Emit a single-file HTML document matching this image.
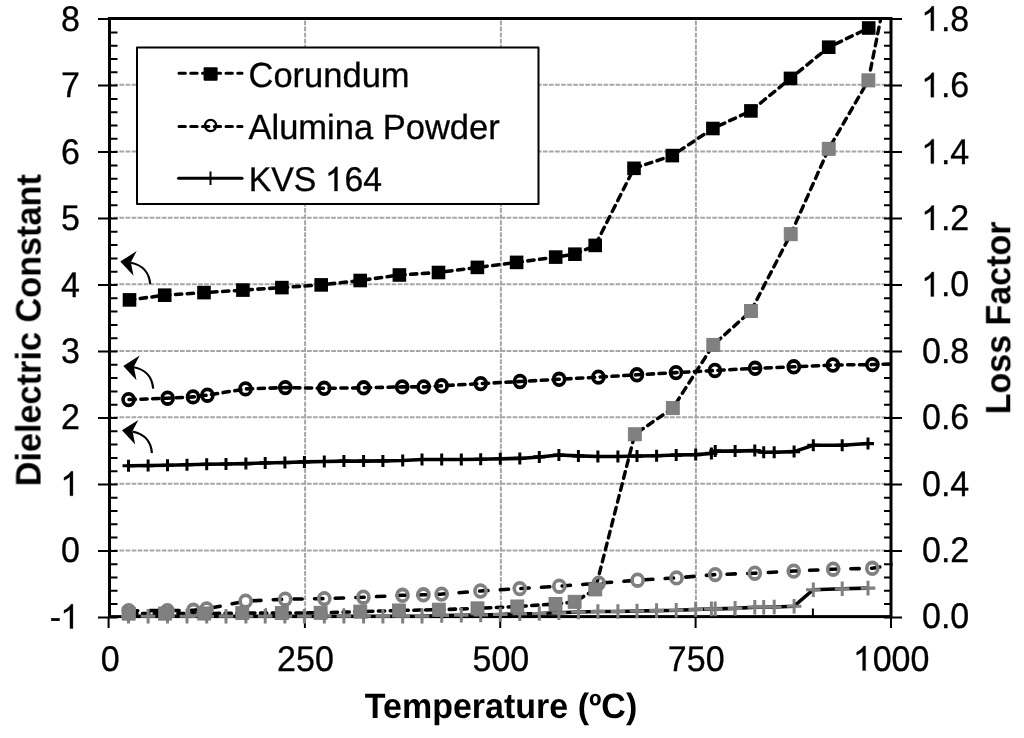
<!DOCTYPE html><html><head><meta charset="utf-8"><title>Dielectric chart</title><style>html,body{margin:0;padding:0;background:#fff;}body{width:1024px;height:738px;overflow:hidden;position:relative;}svg{position:absolute;left:0;top:0;will-change:transform;}text{font-family:"Liberation Sans",sans-serif;fill:#000;font-kerning:none;text-rendering:geometricPrecision;}.rg text,.rg path{stroke:#000;stroke-width:0.3px;}.rg path{vector-effect:non-scaling-stroke;}</style></head><body>
<svg width="1024" height="738" viewBox="0 0 1024 738">
<defs><clipPath id="pc"><rect x="108.0" y="17.0" width="784.5" height="601.1"/></clipPath></defs>
<path d="M111.0 550.5H889.5M111.0 483.8H889.5M111.0 417.2H889.5M111.0 351.0H889.5M111.0 284.2H889.5M111.0 217.8H889.5M111.0 151.5H889.5M111.0 84.8H889.5" stroke="#a6a6a6" stroke-width="2" stroke-dasharray="4.7 1.35" stroke-dashoffset="-2.4" fill="none"/>
<path d="M305.1 20.0V615.1M500.9 20.0V615.1M695.9 20.0V615.1" stroke="#a6a6a6" stroke-width="2" stroke-dasharray="4.7 1.35" stroke-dashoffset="-0.55" fill="none"/>
<path d="M98 19.1H109.5M98 85.6H109.5M98 152.1H109.5M98 218.5H109.5M98 285.0H109.5M98 351.5H109.5M98 418.0H109.5M98 484.5H109.5M98 550.9H109.5M98 617.4H109.5M109.5 19.1H117.5M109.5 32.4H117.5M109.5 45.7H117.5M109.5 59.0H117.5M109.5 72.3H117.5M109.5 85.6H117.5M109.5 98.9H117.5M109.5 112.2H117.5M109.5 125.5H117.5M109.5 138.8H117.5M109.5 152.1H117.5M109.5 165.4H117.5M109.5 178.7H117.5M109.5 191.9H117.5M109.5 205.2H117.5M109.5 218.5H117.5M109.5 231.8H117.5M109.5 245.1H117.5M109.5 258.4H117.5M109.5 271.7H117.5M109.5 285.0H117.5M109.5 298.3H117.5M109.5 311.6H117.5M109.5 324.9H117.5M109.5 338.2H117.5M109.5 351.5H117.5M109.5 364.8H117.5M109.5 378.1H117.5M109.5 391.4H117.5M109.5 404.7H117.5M109.5 418.0H117.5M109.5 431.3H117.5M109.5 444.6H117.5M109.5 457.9H117.5M109.5 471.2H117.5M109.5 484.5H117.5M109.5 497.8H117.5M109.5 511.1H117.5M109.5 524.3H117.5M109.5 537.6H117.5M109.5 550.9H117.5M109.5 564.2H117.5M109.5 577.5H117.5M109.5 590.8H117.5M109.5 604.1H117.5M109.5 617.4H117.5M891.0 617.4H902M891.0 550.9H902M891.0 484.4H902M891.0 418.0H902M891.0 351.5H902M891.0 285.0H902M891.0 218.5H902M891.0 152.1H902M891.0 85.6H902M891.0 19.1H902M884 617.4H891.0M884 604.1H891.0M884 590.8H891.0M884 577.5H891.0M884 564.2H891.0M884 550.9H891.0M884 537.6H891.0M884 524.3H891.0M884 511.0H891.0M884 497.7H891.0M884 484.4H891.0M884 471.1H891.0M884 457.9H891.0M884 444.6H891.0M884 431.3H891.0M884 418.0H891.0M884 404.7H891.0M884 391.4H891.0M884 378.1H891.0M884 364.8H891.0M884 351.5H891.0M884 338.2H891.0M884 324.9H891.0M884 311.6H891.0M884 298.3H891.0M884 285.0H891.0M884 271.7H891.0M884 258.4H891.0M884 245.1H891.0M884 231.8H891.0M884 218.5H891.0M884 205.2H891.0M884 191.9H891.0M884 178.6H891.0M884 165.4H891.0M884 152.1H891.0M884 138.8H891.0M884 125.5H891.0M884 112.2H891.0M884 98.9H891.0M884 85.6H891.0M884 72.3H891.0M884 59.0H891.0M884 45.7H891.0M884 32.4H891.0M884 19.1H891.0M108.6 616.6V628M304.9 616.6V628M500.2 616.6V628M695.6 616.6V628M891.0 616.6V628M187.7 608.5V616.6M265.8 608.5V616.6M343.9 608.5V616.6M422.1 608.5V616.6M500.2 608.5V616.6M578.4 608.5V616.6M656.5 608.5V616.6M734.7 608.5V616.6M812.9 608.5V616.6" stroke="#000" stroke-width="2" fill="none"/>
<rect x="109.5" y="18.5" width="781.5" height="598.1" fill="none" stroke="#000" stroke-width="3"/>
<g clip-path="url(#pc)"><g transform="translate(0 317.5) scale(1 1.0450) translate(0 -317.5)" fill="none" stroke="#000" stroke-width="3.4" stroke-linejoin="round">
<polyline points="129.50,300.66 164.70,296.16 204.00,293.67 242.90,291.28 281.90,288.89 321.20,286.30 360.20,282.09 399.40,276.83 438.50,274.44 477.40,269.56 516.60,264.77 555.70,259.70 574.90,256.93 595.20,248.50 634.00,174.72 672.30,162.57 712.90,136.64 750.90,119.80 790.50,88.70 828.70,58.84 868.70,40.47" stroke-dasharray="6.4 5.4" stroke-dashoffset="1.00" stroke-linecap="round"/>
<polyline points="128.60,396.06 167.60,394.72 193.00,393.48 207.40,391.85 245.50,385.83 285.30,384.58 324.20,385.25 363.70,384.77 402.20,383.91 423.70,383.91 441.60,382.86 480.70,380.75 520.00,378.74 559.10,376.64 598.40,374.53 636.90,372.33 676.00,370.23 714.90,368.22 755.10,366.11 793.80,364.68 832.90,362.95 872.40,362.57 910.00,361.23" stroke-dasharray="6.4 5.4" stroke-dashoffset="11.40" stroke-linecap="round"/>
<polyline points="128.50,459.32 148.10,459.22 167.50,458.84 187.00,458.36 206.70,457.98 226.00,457.69 245.90,457.31 265.20,456.64 284.90,456.35 304.40,455.68 324.30,455.30 343.90,454.92 363.60,454.92 382.90,454.72 402.70,454.34 422.00,453.39 441.70,453.39 461.30,453.39 480.70,453.10 500.30,452.72 519.80,452.33 539.30,450.90 558.90,449.17 578.40,449.94 597.90,450.51 617.90,450.51 637.00,450.13 656.60,449.75 676.20,449.17 695.70,448.70 711.40,447.55 715.20,445.35 735.10,445.35 754.80,444.87 763.70,446.50 774.20,446.50 794.10,445.83 813.30,439.70 842.20,439.70 868.00,438.17" stroke-linecap="round"/>
<polyline points="128.70,600.85 165.00,600.85 204.20,600.75 242.30,600.37 281.80,600.37 320.60,600.08 360.30,598.94 398.90,597.88 438.80,597.12 477.50,595.87 517.30,594.06 555.50,591.66 574.60,589.56 595.30,577.69 634.80,429.27 672.80,404.20 713.30,343.72 751.00,311.28 790.70,237.79 828.70,156.06 868.40,90.61 907.00,-94.46" stroke-dasharray="6.4 5.4" stroke-dashoffset="9.90" stroke-linecap="round"/>
<polyline points="128.70,598.07 167.40,597.98 193.40,597.69 206.60,596.35 245.60,588.89 285.20,587.07 324.30,586.50 363.40,585.16 402.50,583.34 423.40,582.86 441.60,582.19 480.50,579.22 519.80,576.93 559.30,574.63 598.70,571.76 637.60,568.89 676.50,566.69 715.20,563.53 754.80,562.19 793.70,560.18 833.20,558.36 872.30,557.50 910.00,550.99" stroke-dasharray="8.5 12.16" stroke-dashoffset="20.02" stroke-linecap="round"/>
<polyline points="128.50,603.43 148.10,603.43 167.50,603.43 187.00,603.43 206.70,603.43 226.00,603.43 245.90,603.43 265.20,603.43 284.90,603.43 304.40,603.43 324.30,603.43 343.90,603.43 363.60,603.43 382.90,603.43 402.70,603.43 422.00,603.43 441.70,602.67 461.30,602.48 480.70,602.19 500.30,601.71 519.80,601.04 539.30,600.75 558.90,599.99 578.40,599.32 597.90,598.84 617.90,598.84 637.00,598.36 656.60,597.98 676.20,597.69 695.70,596.83 711.40,596.35 715.20,596.35 735.10,595.87 754.80,594.82 763.70,594.82 774.20,594.53 794.10,593.77 813.30,577.98 842.20,577.12 868.00,576.45" stroke-linecap="round"/>
</g></g>
<g transform="translate(0 317.5) scale(1 1.0450) translate(0 -317.5)">
<g fill="#000"><rect x="122.70" y="294.15" width="13.6" height="13.01"/><rect x="157.90" y="289.65" width="13.6" height="13.01"/><rect x="197.20" y="287.17" width="13.6" height="13.01"/><rect x="236.10" y="284.77" width="13.6" height="13.01"/><rect x="275.10" y="282.38" width="13.6" height="13.01"/><rect x="314.40" y="279.80" width="13.6" height="13.01"/><rect x="353.40" y="275.59" width="13.6" height="13.01"/><rect x="392.60" y="270.32" width="13.6" height="13.01"/><rect x="431.70" y="267.93" width="13.6" height="13.01"/><rect x="470.60" y="263.05" width="13.6" height="13.01"/><rect x="509.80" y="258.27" width="13.6" height="13.01"/><rect x="548.90" y="253.19" width="13.6" height="13.01"/><rect x="568.10" y="250.42" width="13.6" height="13.01"/><rect x="588.40" y="242.00" width="13.6" height="13.01"/><rect x="627.20" y="168.22" width="13.6" height="13.01"/><rect x="665.50" y="156.06" width="13.6" height="13.01"/><rect x="706.10" y="130.13" width="13.6" height="13.01"/><rect x="744.10" y="113.29" width="13.6" height="13.01"/><rect x="783.70" y="82.19" width="13.6" height="13.01"/><rect x="821.90" y="52.33" width="13.6" height="13.01"/><rect x="861.90" y="33.96" width="13.6" height="13.01"/></g>
<g fill="none" stroke="#000" stroke-width="3.60"><circle cx="128.60" cy="396.06" r="5.55"/><circle cx="167.60" cy="394.72" r="5.55"/><circle cx="193.00" cy="393.48" r="5.55"/><circle cx="207.40" cy="391.85" r="5.55"/><circle cx="245.50" cy="385.83" r="5.55"/><circle cx="285.30" cy="384.58" r="5.55"/><circle cx="324.20" cy="385.25" r="5.55"/><circle cx="363.70" cy="384.77" r="5.55"/><circle cx="402.20" cy="383.91" r="5.55"/><circle cx="423.70" cy="383.91" r="5.55"/><circle cx="441.60" cy="382.86" r="5.55"/><circle cx="480.70" cy="380.75" r="5.55"/><circle cx="520.00" cy="378.74" r="5.55"/><circle cx="559.10" cy="376.64" r="5.55"/><circle cx="598.40" cy="374.53" r="5.55"/><circle cx="636.90" cy="372.33" r="5.55"/><circle cx="676.00" cy="370.23" r="5.55"/><circle cx="714.90" cy="368.22" r="5.55"/><circle cx="755.10" cy="366.11" r="5.55"/><circle cx="793.80" cy="364.68" r="5.55"/><circle cx="832.90" cy="362.95" r="5.55"/><circle cx="872.40" cy="362.57" r="5.55"/></g>
<path d="M122.50 459.32h12M128.50 453.58v11.48M142.10 459.22h12M148.10 453.48v11.48M161.50 458.84h12M167.50 453.10v11.48M181.00 458.36h12M187.00 452.62v11.48M200.70 457.98h12M206.70 452.24v11.48M220.00 457.69h12M226.00 451.95v11.48M239.90 457.31h12M245.90 451.57v11.48M259.20 456.64h12M265.20 450.90v11.48M278.90 456.35h12M284.90 450.61v11.48M298.40 455.68h12M304.40 449.94v11.48M318.30 455.30h12M324.30 449.56v11.48M337.90 454.92h12M343.90 449.17v11.48M357.60 454.92h12M363.60 449.17v11.48M376.90 454.72h12M382.90 448.98v11.48M396.70 454.34h12M402.70 448.60v11.48M416.00 453.39h12M422.00 447.64v11.48M435.70 453.39h12M441.70 447.64v11.48M455.30 453.39h12M461.30 447.64v11.48M474.70 453.10h12M480.70 447.36v11.48M494.30 452.72h12M500.30 446.97v11.48M513.80 452.33h12M519.80 446.59v11.48M533.30 450.90h12M539.30 445.16v11.48M552.90 449.17h12M558.90 443.43v11.48M572.40 449.94h12M578.40 444.20v11.48M591.90 450.51h12M597.90 444.77v11.48M611.90 450.51h12M617.90 444.77v11.48M631.00 450.13h12M637.00 444.39v11.48M650.60 449.75h12M656.60 444.01v11.48M670.20 449.17h12M676.20 443.43v11.48M689.70 448.70h12M695.70 442.95v11.48M705.40 447.55h12M711.40 441.81v11.48M709.20 445.35h12M715.20 439.61v11.48M729.10 445.35h12M735.10 439.61v11.48M748.80 444.87h12M754.80 439.13v11.48M757.70 446.50h12M763.70 440.75v11.48M768.20 446.50h12M774.20 440.75v11.48M788.10 445.83h12M794.10 440.08v11.48M807.30 439.70h12M813.30 433.96v11.48M836.20 439.70h12M842.20 433.96v11.48M862.00 438.17h12M868.00 432.43v11.48" stroke="#000" stroke-width="3" fill="none"/>
<g fill="none" stroke="#808080" stroke-width="3.60"><circle cx="128.70" cy="598.07" r="5.55"/><circle cx="167.40" cy="597.98" r="5.55"/><circle cx="193.40" cy="597.69" r="5.55"/><circle cx="206.60" cy="596.35" r="5.55"/><circle cx="245.60" cy="588.89" r="5.55"/><circle cx="285.20" cy="587.07" r="5.55"/><circle cx="324.30" cy="586.50" r="5.55"/><circle cx="363.40" cy="585.16" r="5.55"/><circle cx="402.50" cy="583.34" r="5.55"/><circle cx="423.40" cy="582.86" r="5.55"/><circle cx="441.60" cy="582.19" r="5.55"/><circle cx="480.50" cy="579.22" r="5.55"/><circle cx="519.80" cy="576.93" r="5.55"/><circle cx="559.30" cy="574.63" r="5.55"/><circle cx="598.70" cy="571.76" r="5.55"/><circle cx="637.60" cy="568.89" r="5.55"/><circle cx="676.50" cy="566.69" r="5.55"/><circle cx="715.20" cy="563.53" r="5.55"/><circle cx="754.80" cy="562.19" r="5.55"/><circle cx="793.70" cy="560.18" r="5.55"/><circle cx="833.20" cy="558.36" r="5.55"/><circle cx="872.30" cy="557.50" r="5.55"/></g>
<path d="M121.20 603.43h14.6M128.50 596.45v13.97M140.80 603.43h14.6M148.10 596.45v13.97M160.20 603.43h14.6M167.50 596.45v13.97M179.70 603.43h14.6M187.00 596.45v13.97M199.40 603.43h14.6M206.70 596.45v13.97M218.70 603.43h14.6M226.00 596.45v13.97M238.60 603.43h14.6M245.90 596.45v13.97M257.90 603.43h14.6M265.20 596.45v13.97M277.60 603.43h14.6M284.90 596.45v13.97M297.10 603.43h14.6M304.40 596.45v13.97M317.00 603.43h14.6M324.30 596.45v13.97M336.60 603.43h14.6M343.90 596.45v13.97M356.30 603.43h14.6M363.60 596.45v13.97M375.60 603.43h14.6M382.90 596.45v13.97M395.40 603.43h14.6M402.70 596.45v13.97M414.70 603.43h14.6M422.00 596.45v13.97M434.40 602.67h14.6M441.70 595.68v13.97M454.00 602.48h14.6M461.30 595.49v13.97M473.40 602.19h14.6M480.70 595.20v13.97M493.00 601.71h14.6M500.30 594.72v13.97M512.50 601.04h14.6M519.80 594.06v13.97M532.00 600.75h14.6M539.30 593.77v13.97M551.60 599.99h14.6M558.90 593.00v13.97M571.10 599.32h14.6M578.40 592.33v13.97M590.60 598.84h14.6M597.90 591.85v13.97M610.60 598.84h14.6M617.90 591.85v13.97M629.70 598.36h14.6M637.00 591.38v13.97M649.30 597.98h14.6M656.60 590.99v13.97M668.90 597.69h14.6M676.20 590.71v13.97M688.40 596.83h14.6M695.70 589.84v13.97M704.10 596.35h14.6M711.40 589.37v13.97M707.90 596.35h14.6M715.20 589.37v13.97M727.80 595.87h14.6M735.10 588.89v13.97M747.50 594.82h14.6M754.80 587.83v13.97M756.40 594.82h14.6M763.70 587.83v13.97M766.90 594.53h14.6M774.20 587.55v13.97M786.80 593.77h14.6M794.10 586.78v13.97M806.00 577.98h14.6M813.30 570.99v13.97M834.90 577.12h14.6M842.20 570.13v13.97M860.70 576.45h14.6M868.00 569.46v13.97" stroke="#808080" stroke-width="3" fill="none"/>
<g fill="#808080" stroke="#777" stroke-width="0.8"><rect x="122.20" y="594.58" width="13.0" height="12.54"/><rect x="158.50" y="594.58" width="13.0" height="12.54"/><rect x="197.70" y="594.49" width="13.0" height="12.54"/><rect x="235.80" y="594.10" width="13.0" height="12.54"/><rect x="275.30" y="594.10" width="13.0" height="12.54"/><rect x="314.10" y="593.82" width="13.0" height="12.54"/><rect x="353.80" y="592.67" width="13.0" height="12.54"/><rect x="392.40" y="591.61" width="13.0" height="12.54"/><rect x="432.30" y="590.85" width="13.0" height="12.54"/><rect x="471.00" y="589.61" width="13.0" height="12.54"/><rect x="510.80" y="587.79" width="13.0" height="12.54"/><rect x="549.00" y="585.39" width="13.0" height="12.54"/><rect x="568.10" y="583.29" width="13.0" height="12.54"/><rect x="588.80" y="571.42" width="13.0" height="12.54"/><rect x="628.30" y="423.00" width="13.0" height="12.54"/><rect x="666.30" y="397.93" width="13.0" height="12.54"/><rect x="706.80" y="337.45" width="13.0" height="12.54"/><rect x="744.50" y="305.01" width="13.0" height="12.54"/><rect x="784.20" y="231.52" width="13.0" height="12.54"/><rect x="822.20" y="149.80" width="13.0" height="12.54"/><rect x="861.90" y="84.34" width="13.0" height="12.54"/></g>
</g>
<g transform="translate(0.0 0.0)"><path d="M150.2 284.2C149 270 141 265 131 262.8" stroke="#000" stroke-width="2.2" fill="none"/><path d="M120.3 261.5L136.7 251.1L130.8 262.3L133.5 275.8Z" fill="#000"/></g>
<g transform="translate(3.0 104.5)"><path d="M150.2 284.2C149 270 141 265 131 262.8" stroke="#000" stroke-width="2.2" fill="none"/><path d="M120.3 261.5L136.7 251.1L130.8 262.3L133.5 275.8Z" fill="#000"/></g>
<g transform="translate(1.7 168.8)"><path d="M150.2 284.2C149 270 141 265 131 262.8" stroke="#000" stroke-width="2.2" fill="none"/><path d="M120.3 261.5L136.7 251.1L130.8 262.3L133.5 275.8Z" fill="#000"/></g>
<rect x="137" y="47.5" width="401.5" height="156.4" fill="#fff" stroke="#000" stroke-width="2" stroke-linejoin="round"/>
<g fill="none" stroke="#000" stroke-width="3">
<path d="M179 73.3H242" stroke-dasharray="6.4 5.35" stroke-linecap="round"/>
<path d="M179 126.4H242" stroke-dasharray="6.4 5.35" stroke-linecap="round"/>
<path d="M178.5 178.2H242" stroke-linecap="round"/>
</g>
<rect x="203.6" y="67.2" width="14" height="13.6" rx="1" fill="#000"/>
<circle cx="210.6" cy="125.5" r="5.6" fill="none" stroke="#000" stroke-width="2.3"/>
<path d="M210.5 171.5V185" stroke="#000" stroke-width="2" fill="none"/>
<g transform="translate(248.50 87.20) scale(1 1.015)" font-size="34.5" class="rg"><text x="0" y="0" text-anchor="start" style="font-kerning:normal">Corundum</text></g>
<g transform="translate(248.50 139.20) scale(1 1.015)" font-size="34.5" class="rg"><text x="0" y="0" text-anchor="start" style="font-kerning:normal">Alumina Powder</text></g>
<g transform="translate(248.70 191.10) scale(1 1.015)" font-size="33.8" class="rg"><text x="0.00" y="0">KVS </text><path transform="translate(77.02 0) scale(0.01650 -0.01626) translate(-50 0)" d="M763 0L583 0L583 1147Q518 1085 412.5 1023Q307 961 223 930L223 1104Q374 1175 487 1276Q600 1377 647 1472L763 1472Z"/><text x="95.82" y="0">64</text></g>
<g transform="translate(80.00 31.00) scale(1 1.050)" font-size="34" class="rg"><text x="0" y="0" text-anchor="end" style="font-kerning:normal">8</text></g>
<g transform="translate(80.00 97.40) scale(1 1.050)" font-size="34" class="rg"><text x="0" y="0" text-anchor="end" style="font-kerning:normal">7</text></g>
<g transform="translate(80.00 163.80) scale(1 1.050)" font-size="34" class="rg"><text x="0" y="0" text-anchor="end" style="font-kerning:normal">6</text></g>
<g transform="translate(80.00 230.20) scale(1 1.050)" font-size="34" class="rg"><text x="0" y="0" text-anchor="end" style="font-kerning:normal">5</text></g>
<g transform="translate(80.00 296.60) scale(1 1.050)" font-size="34" class="rg"><text x="0" y="0" text-anchor="end" style="font-kerning:normal">4</text></g>
<g transform="translate(80.00 363.00) scale(1 1.050)" font-size="34" class="rg"><text x="0" y="0" text-anchor="end" style="font-kerning:normal">3</text></g>
<g transform="translate(80.00 429.40) scale(1 1.050)" font-size="34" class="rg"><text x="0" y="0" text-anchor="end" style="font-kerning:normal">2</text></g>
<g transform="translate(61.09 495.80) scale(1 1.050)" font-size="34" class="rg"><path transform="translate(0.00 0) scale(0.01660 -0.01581) translate(-50 0)" d="M763 0L583 0L583 1147Q518 1085 412.5 1023Q307 961 223 930L223 1104Q374 1175 487 1276Q600 1377 647 1472L763 1472Z"/></g>
<g transform="translate(80.00 562.20) scale(1 1.050)" font-size="34" class="rg"><text x="0" y="0" text-anchor="end" style="font-kerning:normal">0</text></g>
<g transform="translate(49.77 628.60) scale(1 1.050)" font-size="34" class="rg"><text x="0.00" y="0">-</text><path transform="translate(11.32 0) scale(0.01660 -0.01581) translate(-50 0)" d="M763 0L583 0L583 1147Q518 1085 412.5 1023Q307 961 223 930L223 1104Q374 1175 487 1276Q600 1377 647 1472L763 1472Z"/></g>
<g transform="translate(922.00 628.40) scale(1 1.050)" font-size="34" class="rg"><text x="0" y="0" text-anchor="start" style="font-kerning:normal">0.0</text></g>
<g transform="translate(922.00 562.00) scale(1 1.050)" font-size="34" class="rg"><text x="0" y="0" text-anchor="start" style="font-kerning:normal">0.2</text></g>
<g transform="translate(922.00 495.60) scale(1 1.050)" font-size="34" class="rg"><text x="0" y="0" text-anchor="start" style="font-kerning:normal">0.4</text></g>
<g transform="translate(922.00 429.20) scale(1 1.050)" font-size="34" class="rg"><text x="0" y="0" text-anchor="start" style="font-kerning:normal">0.6</text></g>
<g transform="translate(922.00 362.80) scale(1 1.050)" font-size="34" class="rg"><text x="0" y="0" text-anchor="start" style="font-kerning:normal">0.8</text></g>
<g transform="translate(922.00 296.40) scale(1 1.050)" font-size="34" class="rg"><path transform="translate(0.00 0) scale(0.01660 -0.01581) translate(-50 0)" d="M763 0L583 0L583 1147Q518 1085 412.5 1023Q307 961 223 930L223 1104Q374 1175 487 1276Q600 1377 647 1472L763 1472Z"/><text x="18.91" y="0">.0</text></g>
<g transform="translate(922.00 230.00) scale(1 1.050)" font-size="34" class="rg"><path transform="translate(0.00 0) scale(0.01660 -0.01581) translate(-50 0)" d="M763 0L583 0L583 1147Q518 1085 412.5 1023Q307 961 223 930L223 1104Q374 1175 487 1276Q600 1377 647 1472L763 1472Z"/><text x="18.91" y="0">.2</text></g>
<g transform="translate(922.00 163.60) scale(1 1.050)" font-size="34" class="rg"><path transform="translate(0.00 0) scale(0.01660 -0.01581) translate(-50 0)" d="M763 0L583 0L583 1147Q518 1085 412.5 1023Q307 961 223 930L223 1104Q374 1175 487 1276Q600 1377 647 1472L763 1472Z"/><text x="18.91" y="0">.4</text></g>
<g transform="translate(922.00 97.20) scale(1 1.050)" font-size="34" class="rg"><path transform="translate(0.00 0) scale(0.01660 -0.01581) translate(-50 0)" d="M763 0L583 0L583 1147Q518 1085 412.5 1023Q307 961 223 930L223 1104Q374 1175 487 1276Q600 1377 647 1472L763 1472Z"/><text x="18.91" y="0">.6</text></g>
<g transform="translate(922.00 30.80) scale(1 1.050)" font-size="34" class="rg"><path transform="translate(0.00 0) scale(0.01660 -0.01581) translate(-50 0)" d="M763 0L583 0L583 1147Q518 1085 412.5 1023Q307 961 223 930L223 1104Q374 1175 487 1276Q600 1377 647 1472L763 1472Z"/><text x="18.91" y="0">.8</text></g>
<g transform="translate(110.10 670.50) scale(1 1.050)" font-size="34" class="rg"><text x="0" y="0" text-anchor="middle" style="font-kerning:normal">0</text></g>
<g transform="translate(305.48 670.50) scale(1 1.050)" font-size="34" class="rg"><text x="0" y="0" text-anchor="middle" style="font-kerning:normal">250</text></g>
<g transform="translate(500.85 670.50) scale(1 1.050)" font-size="34" class="rg"><text x="0" y="0" text-anchor="middle" style="font-kerning:normal">500</text></g>
<g transform="translate(696.23 670.50) scale(1 1.050)" font-size="34" class="rg"><text x="0" y="0" text-anchor="middle" style="font-kerning:normal">750</text></g>
<g transform="translate(853.78 670.50) scale(1 1.050)" font-size="34" class="rg"><path transform="translate(0.00 0) scale(0.01660 -0.01581) translate(-50 0)" d="M763 0L583 0L583 1147Q518 1085 412.5 1023Q307 961 223 930L223 1104Q374 1175 487 1276Q600 1377 647 1472L763 1472Z"/><text x="18.91" y="0">000</text></g>
<g transform="translate(501.00 717.90) scale(1 1.035)" font-size="34" font-weight="bold"><text x="0" y="0" text-anchor="middle" style="font-kerning:normal">Temperature (ºC)</text></g>
<g transform="translate(40.6 486.3) rotate(-90)"><g transform="translate(0.00 0.00) scale(1 1.035)" font-size="34.25" font-weight="bold"><text x="0" y="0" text-anchor="start" style="font-kerning:normal">Dielectric Constant</text></g></g>
<g transform="translate(1010.3 414.3) rotate(-90)"><g transform="translate(0.00 0.00) scale(1 1.035)" font-size="34" font-weight="bold"><text x="0" y="0" text-anchor="start" style="font-kerning:normal">Loss Factor</text></g></g>
</svg></body></html>
